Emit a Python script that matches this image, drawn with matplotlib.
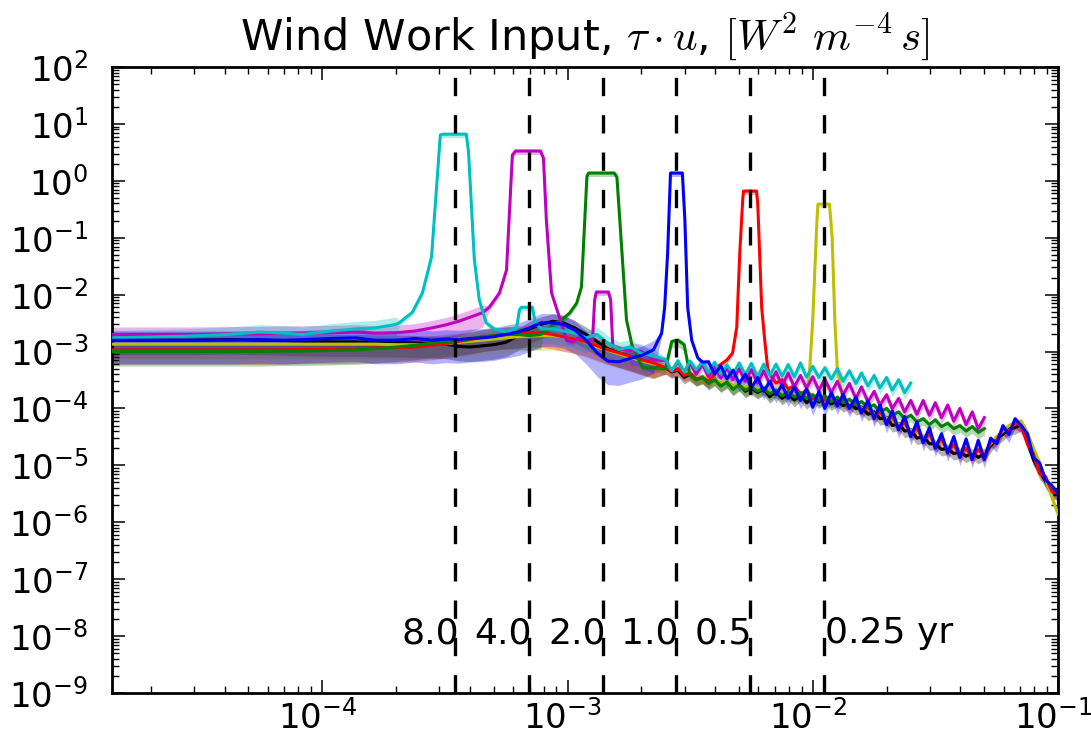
import numpy as np
import matplotlib
matplotlib.use("Agg")
import matplotlib.pyplot as plt
import matplotlib.transforms as mtransforms
from matplotlib.ticker import LogLocator, FixedLocator, NullFormatter, LogFormatterSciNotation

plt.rcParams['font.family'] = ['DejaVu Sans']
plt.rcParams['mathtext.fontset'] = 'cm'
plt.rcParams['axes.unicode_minus'] = False

nan = float('nan')

# ---------------- data (frequency in cycles per day) ----------------
freq_low = [1.39e-5, 2.78e-5, 4.17e-5, 5.56e-5, 6.94e-5, 8.33e-5, 1.1e-4, 1.37e-4, 1.64e-4, 2.0e-4,
            2.4e-4, 2.8e-4, 3.2e-4, 3.6e-4, 4.0e-4, 4.5e-4, 5.0e-4, 5.6e-4, 6.3e-4, 7.0e-4,
            7.8e-4, 8.7e-4, 9.6e-4, 1.07e-3, 1.19e-3, 1.32e-3, 1.46e-3, 1.62e-3, 1.80e-3, 2.00e-3,
            2.24e-3]
freq_high = [2.51e-3, 2.66e-3, 2.82e-3, 2.99e-3, 3.16e-3, 3.35e-3, 3.55e-3, 3.76e-3, 3.98e-3, 4.22e-3,
             4.47e-3, 4.73e-3, 5.01e-3, 5.31e-3, 5.62e-3, 5.96e-3, 6.31e-3, 6.68e-3, 7.08e-3, 7.50e-3,
             7.94e-3, 8.41e-3, 8.91e-3, 9.44e-3, 1.00e-2, 1.06e-2, 1.12e-2, 1.19e-2, 1.26e-2, 1.33e-2,
             1.41e-2, 1.50e-2, 1.58e-2, 1.68e-2, 1.78e-2, 1.88e-2, 2.00e-2, 2.11e-2, 2.24e-2, 2.37e-2,
             2.51e-2, 2.66e-2, 2.82e-2, 2.99e-2, 3.16e-2, 3.35e-2, 3.55e-2, 3.76e-2, 3.98e-2, 4.22e-2,
             4.47e-2, 4.73e-2, 5.01e-2, 5.31e-2, 5.62e-2, 5.96e-2, 6.31e-2, 6.68e-2, 7.08e-2, 7.50e-2,
             7.94e-2, 8.41e-2, 8.91e-2, 9.44e-2, 1.00e-1]
freq = freq_low + freq_high

# control run (black)
black_vals = [1.58e-3, 1.58e-3, 1.62e-3, 1.58e-3, 1.55e-3, 1.51e-3, 1.48e-3, 1.48e-3, 1.45e-3, 1.45e-3,
              1.41e-3, 1.38e-3, 1.35e-3, 1.23e-3, 1.20e-3, 1.26e-3, 1.32e-3, 1.45e-3, 1.9e-3, 2.5e-3,
              3.0e-3, 3.4e-3, 3.2e-3, 2.6e-3, 2.0e-3, 1.5e-3, 1.12e-3, 9.5e-4, 8.3e-4, 7.1e-4,
              6.0e-4,
              5.2e-4, 4.4e-4, 4.7e-4, 3.5e-4, 4.0e-4, 3.2e-4, 3.6e-4, 2.8e-4, 3.3e-4, 2.5e-4,
              3.0e-4, 2.2e-4, 2.7e-4, 2.0e-4, 2.3e-4, 1.9e-4, 2.2e-4, 1.6e-4, 2.0e-4, 1.5e-4,
              1.8e-4, 1.4e-4, 1.7e-4, 1.26e-4, 1.6e-4, 1.3e-4, 1.55e-4, 1.2e-4, 1.4e-4, 1.12e-4,
              1.26e-4, 1.0e-4, 1.05e-4, 7.9e-5, 8.7e-5, 6.6e-5, 6.9e-5, 5.0e-5, 5.4e-5, 4.0e-5,
              4.2e-5, 3.0e-5, 3.2e-5, 2.4e-5, 2.4e-5, 1.9e-5, 2.0e-5, 1.6e-5, 1.74e-5, 1.45e-5,
              1.66e-5, 1.38e-5, 1.6e-5, 2.2e-5, 3.0e-5, 3.5e-5, 4.4e-5, 4.6e-5, 5.2e-5, 2.6e-5,
              1.26e-5, 7.9e-6, 5.2e-6, 3.5e-6, 3.0e-6]

# 1 yr forcing (blue)
blue_vals = [1.58e-3, 1.58e-3, 1.58e-3, 1.62e-3, 1.58e-3, 1.62e-3, 1.7e-3, 1.74e-3, 1.58e-3, 1.58e-3,
             1.7e-3, 1.58e-3, 1.66e-3, 1.62e-3, 1.7e-3, 1.74e-3, 1.82e-3, 2.0e-3, 2.2e-3, 2.6e-3,
             3.2e-3, 3.2e-3, 3.0e-3, 2.4e-3, 1.58e-3, 9.5e-4, 6.8e-4, 6.6e-4, 7.6e-4, 8.5e-4,
             1.07e-3,
             nan, nan, nan, nan, nan, nan, nan,
             6.6e-4, 4.0e-4, 5.6e-4, 3.3e-4, 4.7e-4, 2.75e-4, 4.0e-4, 2.3e-4, 3.5e-4, 2.0e-4,
             3.0e-4, 1.74e-4, 2.6e-4, 1.5e-4, 2.4e-4, 1.38e-4, 2.2e-4, 1.05e-4, 2.0e-4, 1.0e-4,
             1.9e-4, 1.1e-4, 1.78e-4, 1.0e-4, 1.58e-4, 8.3e-5, 1.38e-4, 6.6e-5, 1.15e-4, 5.2e-5,
             9.1e-5, 4.2e-5, 7.2e-5, 3.2e-5, 5.8e-5, 2.5e-5, 4.6e-5, 2.0e-5, 3.6e-5, 1.66e-5,
             3.2e-5, 1.38e-5, 2.9e-5, 1.26e-5, 2.75e-5, 1.26e-5, 3.0e-5, 2.4e-5, 5.0e-5, 3.5e-5,
             6.6e-5, 5.0e-5, 3.6e-5, 1.38e-5, 1.1e-5, 5.5e-6, 4.4e-6, 3.2e-6]
blue_peak_f = [2.42e-3, 2.49e-3, 2.56e-3, 2.63e-3, 2.94e-3, 3.01e-3, 3.09e-3, 3.21e-3, 3.40e-3, 3.56e-3]
blue_peak_v = [2.1e-3, 6.0e-3, 5.4e-2, 1.37, 1.37, 0.205, 6.0e-3, 1.58e-3, 7.7e-4, 6.5e-4]

# 0.5 yr forcing (red)
red_vals = [1.07e-3, 1.07e-3, 1.07e-3, 1.07e-3, 1.07e-3, 1.1e-3, 1.1e-3, 1.12e-3, 1.15e-3, 1.17e-3,
            1.2e-3, 1.29e-3, 1.38e-3, 1.51e-3, 1.62e-3, 1.78e-3, 1.9e-3, 2.0e-3, 2.1e-3, 2.14e-3,
            2.14e-3, 2.0e-3, 1.82e-3, 1.66e-3, 1.48e-3, 1.26e-3, 1.07e-3, 9.5e-4, 8.3e-4, 7.2e-4,
            6.3e-4,
            5.2e-4, 4.5e-4, 5.0e-4, 3.8e-4, 4.2e-4, 3.3e-4, 3.5e-4, 3.0e-4, 4.0e-4,
            nan, nan, nan, nan, nan, nan, nan, nan,
            4.0e-4, 2.8e-4, 3.2e-4, 2.2e-4, 2.5e-4, 1.78e-4, 2.1e-4, 1.5e-4, 1.8e-4, 1.41e-4,
            1.66e-4, 1.26e-4, 1.45e-4, 1.05e-4, 1.32e-4, 9.1e-5, 1.1e-4, 7.2e-5, 8.9e-5, 6.0e-5,
            7.2e-5, 4.6e-5, 5.8e-5, 3.5e-5, 4.6e-5, 2.75e-5, 3.6e-5, 2.2e-5, 2.9e-5, 1.8e-5,
            2.3e-5, 1.5e-5, 2.0e-5, 1.38e-5, 1.9e-5, 1.45e-5, 2.6e-5, 2.75e-5, 4.4e-5, 4.0e-5,
            5.5e-5, 5.0e-5, 2.4e-5, 1.58e-5, 7.2e-6, 6.3e-6, 3.5e-6, 3.2e-6]
red_peak_f = [4.06e-3, 4.46e-3, 4.71e-3, 4.90e-3, 5.04e-3, 5.18e-3, 5.22e-3, 5.90e-3, 5.97e-3, 6.19e-3,
              6.37e-3, 6.55e-3]
red_peak_v = [5.3e-4, 7.1e-4, 9.4e-4, 2.7e-3, 5.4e-2, 0.46, 0.66, 0.66, 0.376, 6.0e-3,
              1.58e-3, 5.1e-4]

# 0.25 yr forcing (yellow)
yellow_vals = [1.35e-3, 1.35e-3, 1.35e-3, 1.35e-3, 1.35e-3, 1.35e-3, 1.35e-3, 1.35e-3, 1.35e-3, 1.32e-3,
               1.32e-3, 1.35e-3, 1.38e-3, 1.45e-3, 1.51e-3, 1.58e-3, 1.66e-3, 1.74e-3, 1.82e-3, 1.86e-3,
               1.9e-3, 1.9e-3, 1.82e-3, 1.66e-3, 1.45e-3, 1.2e-3, 1.05e-3, 9.1e-4, 7.9e-4, 6.9e-4,
               6.0e-4,
               5.5e-4, 4.8e-4, 5.0e-4, 4.2e-4, 4.0e-4, 3.5e-4, 3.6e-4, 3.2e-4, 3.3e-4, 2.8e-4,
               3.0e-4, 2.5e-4, 2.75e-4, 2.3e-4, 2.5e-4, 2.1e-4, 2.3e-4, 1.9e-4, 2.1e-4, 1.74e-4,
               1.9e-4, 1.66e-4, 1.8e-4, 1.58e-4,
               nan, nan, nan, nan, nan,
               1.45e-4, 1.26e-4, 1.26e-4, 1.0e-4, 1.05e-4, 7.9e-5, 8.7e-5, 6.6e-5, 6.9e-5, 5.2e-5,
               5.5e-5, 4.0e-5, 4.4e-5, 3.2e-5, 3.5e-5, 2.5e-5, 2.6e-5, 2.1e-5, 2.3e-5, 1.8e-5,
               2.1e-5, 1.74e-5, 2.0e-5, 1.74e-5, 2.4e-5, 3.2e-5, 4.0e-5, 5.0e-5, 5.5e-5, 6.0e-5,
               3.8e-5, 2.0e-5, 1.12e-5, 5.6e-6, 2.8e-6, 1.4e-6]
yellow_peak_f = [9.73e-3, 1.0e-2, 1.04e-2, 1.05e-2, 1.17e-2, 1.20e-2, 1.23e-2, 1.26e-2]
yellow_peak_v = [5.4e-4, 3.6e-3, 0.20, 0.39, 0.39, 0.10, 3.6e-3, 4.7e-4]

# 2 yr forcing (green)
green_vals = [1.0e-3, 1.0e-3, 1.0e-3, 1.0e-3, 1.02e-3, 1.02e-3, 1.05e-3, 1.07e-3, 1.12e-3, 1.2e-3,
              1.29e-3, 1.41e-3, 1.48e-3, 1.55e-3, 1.66e-3, 1.82e-3, 1.9e-3, 2.0e-3, 2.0e-3, 1.9e-3,
              2.0e-3, nan, nan, nan, nan, nan, nan, nan, nan, nan,
              nan,
              5.0e-4, 1.5e-3, 1.58e-3, 1.32e-3, 3.8e-4, 3.2e-4, 3.5e-4, 2.75e-4, 3.2e-4, 2.5e-4,
              2.9e-4, 2.2e-4, 2.6e-4, 2.1e-4, 2.4e-4, 2.0e-4, 2.3e-4, 1.8e-4, 2.1e-4, 1.66e-4,
              2.0e-4, 1.58e-4, 1.9e-4, 1.5e-4, 1.74e-4, 1.38e-4, 1.66e-4, 1.32e-4, 1.58e-4, 1.26e-4,
              1.45e-4, 1.15e-4, 1.32e-4, 1.05e-4, 1.15e-4, 8.7e-5, 1.0e-4, 7.6e-5, 8.7e-5, 6.6e-5,
              7.6e-5, 5.8e-5, 6.6e-5, 5.2e-5, 6.3e-5, 4.8e-5, 5.5e-5, 4.4e-5, 5.0e-5, 4.0e-5,
              4.8e-5, 3.8e-5, 4.4e-5]
green_peak_f = [7.91e-4, 8.69e-4, 9.46e-4, 1.02e-3, 1.09e-3, 1.14e-3, 1.20e-3, 1.22e-3, 1.55e-3, 1.59e-3,
                1.74e-3, 1.84e-3, 2.02e-3, 2.31e-3]
green_peak_v = [2.1e-3, 2.9e-3, 3.6e-3, 4.75e-3, 7.1e-3, 1.36e-2, 1.2, 1.37, 1.37, 1.17,
                3.6e-3, 1.2e-3, 5.3e-4, 5.1e-4]

# 4 yr forcing (magenta)
magenta_vals = [2.0e-3, 2.0e-3, 2.04e-3, 2.04e-3, 2.1e-3, 2.1e-3, 2.14e-3, 2.2e-3, 2.1e-3, 2.14e-3,
                2.3e-3, 2.6e-3, 2.95e-3, 3.4e-3, 4.0e-3, 4.8e-3, nan, nan, nan, nan,
                nan, nan, nan, nan, nan, nan, nan, nan, 1.05e-3, 1.0e-3,
                7.2e-4,
                6.9e-4, 4.6e-4, 6.6e-4, 4.4e-4, 6.3e-4, 4.0e-4, 6.0e-4, 3.6e-4, 5.6e-4, 3.4e-4,
                5.2e-4, 3.2e-4, 5.0e-4, 3.0e-4, 4.8e-4, 2.8e-4, 4.6e-4, 2.7e-4, 4.4e-4, 2.5e-4,
                4.2e-4, 2.4e-4, 3.8e-4, 2.3e-4, 3.6e-4, 2.1e-4, 3.3e-4, 1.9e-4, 3.0e-4, 1.74e-4,
                2.75e-4, 1.5e-4, 2.4e-4, 1.32e-4, 2.0e-4, 1.15e-4, 1.74e-4, 1.0e-4, 1.5e-4, 8.7e-5,
                1.38e-4, 7.9e-5, 1.38e-4, 7.6e-5, 1.26e-4, 6.9e-5, 1.15e-4, 6.0e-5, 1.0e-4, 5.2e-5,
                8.7e-5, 4.4e-5, 6.9e-5]
magenta_peak_f = [4.80e-4, 5.28e-4, 5.64e-4, 5.96e-4, 6.14e-4, 7.76e-4, 7.98e-4, 8.20e-4, 8.61e-4, 9.27e-4,
                  9.91e-4, 1.047e-3, 1.12e-3, 1.265e-3, 1.29e-3, 1.31e-3, 1.47e-3, 1.50e-3, 1.53e-3, 1.74e-3]
magenta_peak_v = [6.0e-3, 1.07e-2, 2.7e-2, 2.84, 3.34, 3.34, 2.5, 0.205, 1.07e-2, 4.0e-3,
                  1.58e-3, 1.47e-3, 1.8e-3, 1.58e-3, 8.0e-3, 1.11e-2, 1.11e-2, 8.0e-3, 1.2e-3, 1.06e-3]

# 8 yr forcing (cyan)
cyan_vals = [1.74e-3, 1.86e-3, 2.0e-3, 2.2e-3, 2.1e-3, 2.0e-3, 2.3e-3, 2.5e-3, 2.6e-3, 3.0e-3,
             nan, nan, nan, nan, nan, nan, nan, nan, nan, nan,
             2.5e-3, 2.5e-3, 2.3e-3, 2.1e-3, 1.74e-3, 2.0e-3, 1.41e-3, 1.1e-3, 1.2e-3, 9.3e-4,
             8.3e-4,
             7.2e-4, 4.6e-4, 6.9e-4, 4.4e-4, 6.8e-4, 4.8e-4, 6.6e-4, 4.2e-4, 6.5e-4, 4.0e-4,
             5.8e-4, 4.0e-4, 6.3e-4, 3.9e-4, 6.2e-4, 3.6e-4, 6.0e-4, 3.8e-4, 6.0e-4, 3.7e-4,
             5.9e-4, 3.6e-4, 6.3e-4, 3.55e-4, 5.5e-4, 3.5e-4, 5.2e-4, 3.3e-4, 5.0e-4, 3.0e-4,
             4.6e-4, 2.75e-4, 4.2e-4, 2.5e-4, 3.8e-4, 2.3e-4, 3.5e-4, 2.1e-4, 3.2e-4, 1.9e-4,
             2.8e-4]
cyan_peak_f = [2.06e-4, 2.33e-4, 2.56e-4, 2.79e-4, 3.03e-4, 3.12e-4, 3.87e-4, 3.95e-4, 4.17e-4, 4.37e-4,
               4.66e-4, 5.03e-4, 5.64e-4, 6.20e-4, 6.37e-4, 6.49e-4, 7.19e-4, 7.39e-4]
cyan_peak_v = [3.2e-3, 4.9e-3, 1.07e-2, 4.6e-2, 6.4, 6.6, 6.6, 3.1, 4.1e-2, 8.0e-3,
               3.2e-3, 2.5e-3, 2.2e-3, 2.6e-3, 5.4e-3, 6.0e-3, 6.0e-3, 3.2e-3]

# confidence band factors: (upper multiplier, lower divisor) for the smooth
# low-frequency part, the noisy high-frequency part and the forced peaks
band_split_freq = 2.4e-3
band_low = {'k': (1.35, 1.8), 'y': (1.35, 1.8), 'r': (1.35, 1.8), 'g': (1.35, 1.8),
            'm': (1.35, 1.8), 'c': (1.35, 1.8), 'b': (1.45, 2.6)}
band_high = {'k': (1.12, 1.3), 'y': (1.12, 1.3), 'r': (1.12, 1.3), 'g': (1.12, 1.3),
             'm': (1.12, 1.3), 'c': (1.12, 1.3), 'b': (1.12, 1.4)}
band_peak = (1.08, 1.15)

# forcing periods and their frequencies (360-day years)
forcing_freq = [3.472e-4, 6.944e-4, 1.389e-3, 2.778e-3, 5.556e-3, 1.111e-2]
period_labels = ['8.0', '4.0', '2.0', '1.0', '0.5']
period_label_x = [2.75e-4, 5.45e-4, 1.09e-3, 2.17e-3, 4.31e-3]
last_label = '0.25 yr'
last_label_x = 1.12e-2

x_decades = [1e-4, 1e-3, 1e-2, 1e-1]
y_decades = [1e-9, 1e-8, 1e-7, 1e-6, 1e-5, 1e-4, 1e-3, 1e-2, 1e-1, 1e0, 1e1, 1e2]

series = [
    ('k', black_vals, [], []),
    ('y', yellow_vals, yellow_peak_f, yellow_peak_v),
    ('r', red_vals, red_peak_f, red_peak_v),
    ('g', green_vals, green_peak_f, green_peak_v),
    ('m', magenta_vals, magenta_peak_f, magenta_peak_v),
    ('c', cyan_vals, cyan_peak_f, cyan_peak_v),
    ('b', blue_vals, blue_peak_f, blue_peak_v),
]

# ---------------- figure ----------------
W, H = 1091, 748
fig = plt.figure(figsize=(W / 100, H / 100), dpi=100)
ax = fig.add_axes([112 / W, 1 - 693 / H, (1058 - 112) / W, (693 - 67) / H])
ax.set_xscale('log')
ax.set_yscale('log')

classic = {'k': (0, 0, 0), 'y': (0.75, 0.75, 0), 'r': (1, 0, 0), 'g': (0, 0.5, 0),
           'm': (0.75, 0, 0.75), 'c': (0, 0.75, 0.75), 'b': (0, 0, 1)}

prepared = []
for col, vals, pf, pv in series:
    f = np.array(freq[:len(vals)], dtype=float)
    v = np.array(vals, dtype=float)
    keep = ~np.isnan(v)
    f = f[keep]
    v = v[keep]
    lo_up, lo_dn = band_low[col]
    hi_up, hi_dn = band_high[col]
    up = np.where(f < band_split_freq, lo_up, hi_up)
    dn = np.where(f < band_split_freq, lo_dn, hi_dn)
    pf = np.array(pf, dtype=float)
    pv = np.array(pv, dtype=float)
    f = np.concatenate([f, pf])
    v = np.concatenate([v, pv])
    up = np.concatenate([up, np.full(len(pf), band_peak[0])])
    dn = np.concatenate([dn, np.full(len(pf), band_peak[1])])
    order = np.argsort(f)
    prepared.append((col, f[order], v[order], up[order], dn[order]))

for col, f, v, up, dn in prepared:
    ax.fill_between(f, v / dn, v * up, color=classic[col], alpha=0.3, lw=0, zorder=1)
for col, f, v, up, dn in prepared:
    ax.plot(f, v, color=classic[col], lw=2.2, zorder=3)

for fx in forcing_freq:
    ax.axvline(fx, color='k', lw=2.4, linestyle=(0, (5.5, 5.7)), zorder=4)

for lab, lx in zip(period_labels, period_label_x):
    ax.text(lx, 7.5e-9, lab, ha='center', va='baseline', fontsize=26, zorder=5)
ax.text(last_label_x, 7.5e-9, last_label, ha='left', va='baseline', fontsize=26, zorder=5)

ax.set_xlim(1.0 / 72000, 0.1)
ax.set_ylim(1e-9, 1e2)

ax.xaxis.set_major_locator(FixedLocator(x_decades))
ax.yaxis.set_major_locator(FixedLocator(y_decades))
ax.xaxis.set_minor_locator(LogLocator(base=10, subs=np.arange(2, 10), numticks=20))
ax.yaxis.set_minor_locator(LogLocator(base=10, subs=np.arange(2, 10), numticks=20))
ax.xaxis.set_minor_formatter(NullFormatter())
ax.yaxis.set_minor_formatter(NullFormatter())
ax.xaxis.set_major_formatter(LogFormatterSciNotation())
ax.yaxis.set_major_formatter(LogFormatterSciNotation())

ax.tick_params(which='both', direction='in', top=True, right=True, labelsize=24.5)
ax.tick_params(which='major', length=9.5, width=1.1)
ax.tick_params(which='minor', length=4.8, width=1.0)
ax.tick_params(axis='x', which='major', pad=5)
ax.tick_params(axis='y', which='major', pad=17)
for sp in ax.spines.values():
    sp.set_linewidth(2.0)

# x tick labels sit a few pixels left of their ticks in the reference
shift = mtransforms.ScaledTranslation(-5 / 100, 0, fig.dpi_scale_trans)
for lab in ax.xaxis.get_majorticklabels():
    lab.set_transform(lab.get_transform() + shift)

ax.set_title(r'Wind Work Input, $\tau \cdot u$, $[W^2\ m^{-4}\,s]$', fontsize=31, pad=12)

fig.savefig('out.png', dpi=100)
